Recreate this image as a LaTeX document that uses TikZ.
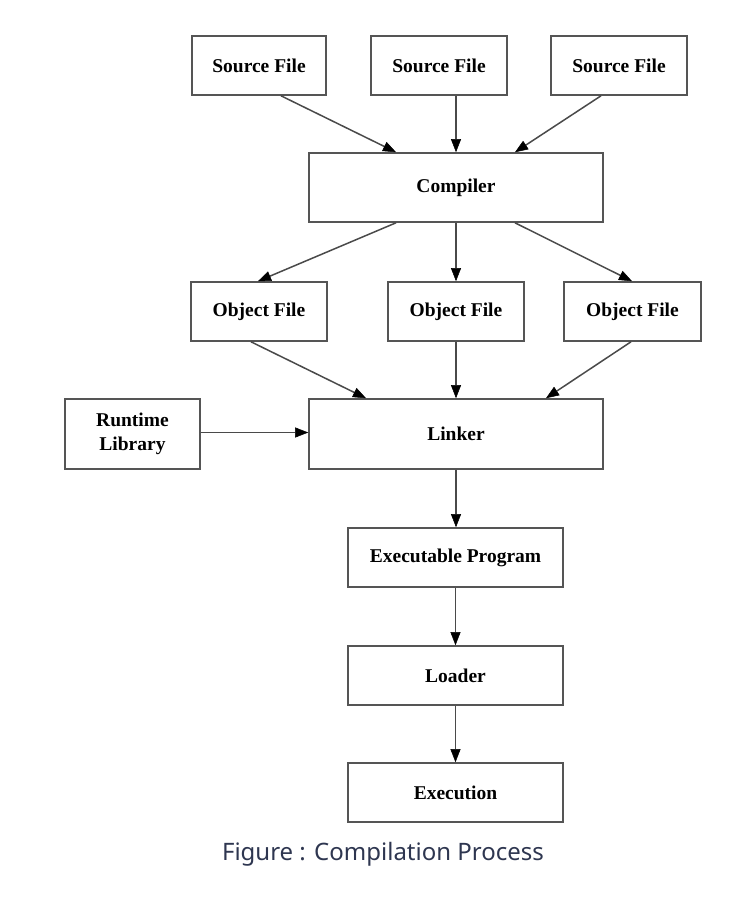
\documentclass[tikz,border=0pt]{standalone}
\usepackage{fontspec}
\setmainfont{Liberation Serif}
\newfontfamily\capfont{Noto Sans}
\usetikzlibrary{arrows.meta}
\definecolor{boxline}{HTML}{555555}
\definecolor{arrowline}{HTML}{4A4A4A}
\definecolor{captext}{HTML}{2E3650}
\tikzset{
  x=1pt, y=-1pt,
  box/.style={draw=boxline, line width=1.6pt, fill=white, inner sep=0pt,
    align=center, font=\fontsize{19.5}{24}\selectfont\bfseries},
  smallbox/.style={box, minimum width=136pt, minimum height=59pt},
  flowarrow/.style={draw=arrowline, line width=1.5pt,
    -{Triangle[length=13pt, width=10pt, color=black, fill=black, line width=0.5pt]}},
}
\begin{document}
\begin{tikzpicture}
\useasboundingbox (0,0) rectangle (749,912);
% top row
\node[smallbox, minimum width=134pt] (src1) at (259,65.5) {Source File};
\node[smallbox] (src2) at (439,65.5) {Source File};
\node[smallbox] (src3) at (619,65.5) {Source File};
% compiler
\node[box, minimum width=294pt, minimum height=69pt] (comp) at (456,187.5) {Compiler};
% object files
\node[smallbox] (obj1) at (259,311.5) {Object File};
\node[smallbox] (obj2) at (456,311.5) {Object File};
\node[smallbox, minimum width=137pt] (obj3) at (632.5,311.5) {Object File};
% linker row
\node[box, minimum width=135pt, minimum height=70pt] (rt) at (132.5,434) {Runtime\\Library};
\node[box, minimum width=294pt, minimum height=70pt] (link) at (456,434) {Linker};
% lower chain
\node[smallbox, minimum width=215pt] (exe) at (455.5,557.5) {Executable Program};
\node[smallbox, minimum width=215pt] (load) at (455.5,675.5) {Loader};
\node[smallbox, minimum width=215pt] (execn) at (455.5,792.5) {Execution};
% caption
\node[anchor=base, text=captext, font=\capfont\fontsize{24}{28}\selectfont] (cap) at (383,860) {Figure : Compilation Process};
% arrows
\draw[flowarrow] ([xshift=22pt]src1.south) -- ([xshift=-60pt]comp.north);
\draw[flowarrow] ([xshift=17pt]src2.south) -- (comp.north);
\draw[flowarrow] ([xshift=-18pt]src3.south) -- ([xshift=59pt]comp.north);
\draw[flowarrow] ([xshift=-60pt]comp.south) -- ([xshift=-1pt]obj1.north);
\draw[flowarrow] (comp.south) -- (obj2.north);
\draw[flowarrow] ([xshift=59pt]comp.south) -- ([xshift=-0.5pt]obj3.north);
\draw[flowarrow] ([xshift=-8pt]obj1.south) -- ([xshift=-90pt]link.north);
\draw[flowarrow] (obj2.south) -- (link.north);
\draw[flowarrow] ([xshift=-1.5pt]obj3.south) -- ([xshift=90pt]link.north);
\draw[flowarrow] ([yshift=1.5pt]rt.east) -- ([yshift=1.5pt]link.west);
\draw[flowarrow] (link.south) -- ([xshift=0.5pt]exe.north);
\draw[flowarrow] (exe.south) -- (load.north);
\draw[flowarrow] (load.south) -- (execn.north);
\end{tikzpicture}
\end{document}
